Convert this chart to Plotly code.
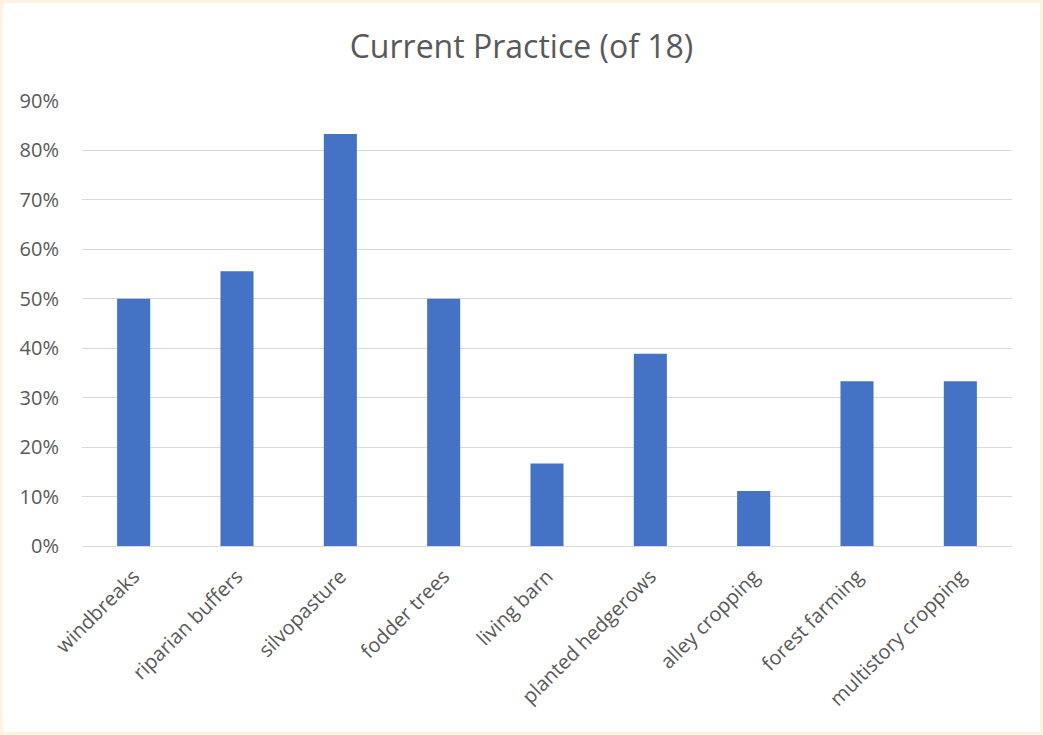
import plotly.graph_objects as go

categories = ["windbreaks", "riparian buffers", "silvopasture", "fodder trees", "living barn",
              "planted hedgerows", "alley cropping", "forest farming", "multistory cropping"]
counts = [9, 10, 15, 9, 3, 7, 2, 6, 6]
total = 18
values = [c / total for c in counts]
tick_vals = [0, 0.1, 0.2, 0.3, 0.4, 0.5, 0.6, 0.7, 0.8, 0.9]
tick_text = ["0%", "10%", "20%", "30%", "40%", "50%", "60%", "70%", "80%", "90%"]

fig = go.Figure(go.Bar(x=categories, y=values, marker=dict(color="#4472C4", line=dict(width=0)),
                       hoverinfo="x+y"))

L, R, T, B = 82, 31, 101, 189
W, H = 1043, 735
pw, ph = W - L - R, H - T - B
fig.add_shape(type="rect", xref="paper", yref="paper", layer="below",
              x0=(3 - L) / pw, x1=(W - 3 - L) / pw,
              y0=(3 - B) / ph, y1=(H - B - 3) / ph,
              fillcolor="white", line=dict(width=0))

fig.update_layout(
    width=W, height=H,
    margin=dict(l=L, r=R, t=T, b=B, pad=0),
    paper_bgcolor="#FCF3E1",
    plot_bgcolor="white",
    title=dict(text="Current Practice (of 18)", x=0.5, xanchor="center", y=1 - 47 / H, yanchor="middle",
               font=dict(family="Open Sans", size=32, color="#595959")),
    font=dict(family="Open Sans", color="#595959", size=20),
    bargap=0.68,
    showlegend=False,
    xaxis=dict(tickangle=-45, showgrid=False, showline=True, linecolor="#D9D9D9", linewidth=1,
               ticks="", ticklabelstandoff=10, tickfont=dict(size=20, color="#595959")),
    yaxis=dict(range=[0, 0.9], tickvals=tick_vals, ticktext=tick_text, showgrid=True,
               gridcolor="#D9D9D9", gridwidth=1, zeroline=False, showline=False, ticks="",
               ticklabelstandoff=22, tickfont=dict(size=20, color="#595959")),
)
fig.write_html("out.html", config={"displayModeBar": False},
               post_script="document.body.style.margin='0';document.body.style.overflow='hidden';")
